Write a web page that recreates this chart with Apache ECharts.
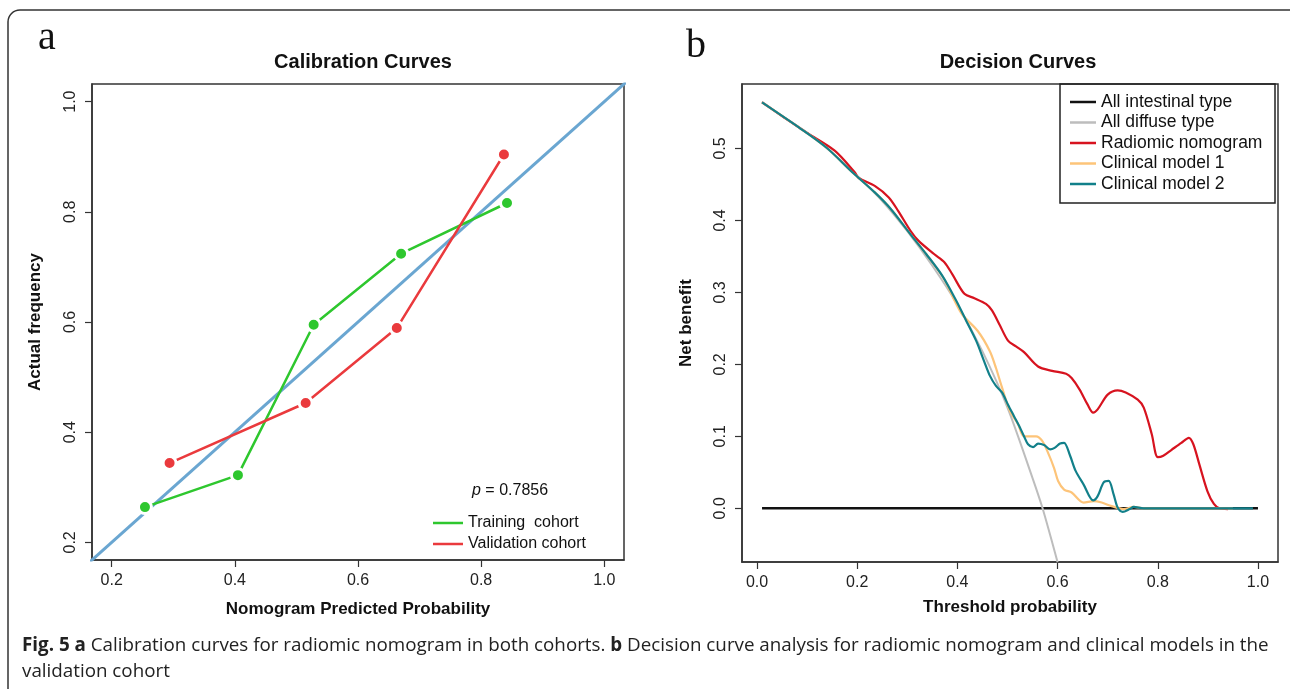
<!DOCTYPE html>
<html lang="en">

<head>
  <meta charset="UTF-8">
  <title>Calibration and Decision Curves</title>
  <script src="https://cdn.jsdelivr.net/npm/echarts@6.0.0/dist/echarts.min.js"></script>
  <style>
    html, body { margin: 0; padding: 0; background: #fff; }
  </style>
</head>

<body>
  <div id="main" style="width: 1290px;height:689px;"></div>
  <script>
    // panel a: calibration points (predicted, observed)
    const trainPred = [0.254, 0.405, 0.528, 0.670, 0.842];
    const trainObs = [0.264, 0.322, 0.595, 0.724, 0.816];
    const validPred = [0.294, 0.515, 0.663, 0.837];
    const validObs = [0.344, 0.453, 0.589, 0.904];
    const idealLine = [[0.1, 0.1], [1.1, 1.1]];
    const calTicks = [0.2, 0.4, 0.6, 0.8, 1.0];

    // panel b: decision curves [threshold, net benefit]
    const allIntestinal = [[0.01, 0], [1.0, 0]];
    const allDiffuse = [[0.01, 0.565], [0.05, 0.545], [0.1, 0.522], [0.15, 0.494], [0.2, 0.462],
      [0.25, 0.427], [0.3, 0.385], [0.35, 0.337], [0.4, 0.283], [0.45, 0.218], [0.5, 0.140],
      [0.55, 0.042], [0.57, 0.0], [0.6, -0.075]];
    const radiomic = [[0.01, 0.564], [0.05, 0.545], [0.099, 0.522], [0.155, 0.497], [0.195, 0.467],
      [0.203, 0.459], [0.235, 0.448], [0.263, 0.432], [0.282, 0.413], [0.306, 0.386], [0.322, 0.372],
      [0.354, 0.353], [0.374, 0.342], [0.39, 0.325], [0.414, 0.298], [0.434, 0.292], [0.457, 0.284],
      [0.469, 0.275], [0.485, 0.254], [0.501, 0.233], [0.517, 0.225], [0.533, 0.217], [0.561, 0.197],
      [0.589, 0.191], [0.617, 0.187], [0.628, 0.181], [0.644, 0.165], [0.66, 0.144], [0.671, 0.133],
      [0.68, 0.1375], [0.70, 0.158], [0.72, 0.164], [0.736, 0.161], [0.76, 0.151], [0.772, 0.140],
      [0.788, 0.103], [0.80, 0.071], [0.811, 0.073], [0.827, 0.081], [0.847, 0.091], [0.862, 0.098],
      [0.871, 0.089], [0.883, 0.061], [0.899, 0.024], [0.912, 0.006], [0.923, 0.0], [0.94, -0.001]];
    const clinical1 = [[0.01, 0.564], [0.084, 0.529], [0.139, 0.501], [0.187, 0.469], [0.235, 0.439],
      [0.267, 0.416], [0.306, 0.381], [0.338, 0.353], [0.354, 0.338], [0.374, 0.318], [0.394, 0.289],
      [0.41, 0.269], [0.441, 0.246], [0.465, 0.218], [0.477, 0.195], [0.489, 0.168], [0.505, 0.135],
      [0.521, 0.117], [0.533, 0.1], [0.557, 0.1], [0.569, 0.094], [0.581, 0.077], [0.593, 0.056],
      [0.601, 0.038], [0.613, 0.026], [0.628, 0.022], [0.652, 0.008], [0.672, 0.010], [0.688, 0.008],
      [0.708, 0.003], [0.732, -0.001], [0.752, 0.002], [0.772, 0.0], [0.95, 0.0]];
    const clinical2 = [[0.01, 0.564], [0.084, 0.529], [0.139, 0.501], [0.187, 0.469], [0.235, 0.439],
      [0.267, 0.416], [0.306, 0.381], [0.338, 0.353], [0.370, 0.323], [0.398, 0.288], [0.418, 0.260],
      [0.438, 0.232], [0.453, 0.205], [0.465, 0.184], [0.477, 0.170], [0.489, 0.161], [0.501, 0.144],
      [0.513, 0.128], [0.525, 0.112], [0.533, 0.100], [0.541, 0.089], [0.551, 0.085], [0.561, 0.090],
      [0.573, 0.088], [0.585, 0.082], [0.594, 0.084], [0.605, 0.090], [0.613, 0.091], [0.625, 0.073],
      [0.636, 0.052], [0.652, 0.033], [0.671, 0.011], [0.680, 0.017], [0.692, 0.036], [0.702, 0.038],
      [0.712, 0.019], [0.72, 0.001], [0.730, -0.005], [0.744, -0.001], [0.752, 0.002], [0.772, 0.0],
      [0.99, 0.0]];
    const dcaXTicks = [0, 0.2, 0.4, 0.6, 0.8, 1.0];
    const dcaYTicks = [0, 0.1, 0.2, 0.3, 0.4, 0.5];

    const FONT = 'Liberation Sans';
    const pair = (xs, ys) => xs.map((x, i) => [x, ys[i]]);

    var myChart = echarts.init(document.getElementById('main'));

    function axisStyle(ticks, rotate) {
      return {
        axisLine: { show: true, onZero: false, lineStyle: { color: '#333', width: 1.5 } },
        axisTick: { show: true, length: 7, customValues: ticks, lineStyle: { color: '#333', width: 1.2 } },
        axisLabel: {
          customValues: ticks, rotate: rotate, margin: 13, color: '#222',
          fontFamily: FONT, fontSize: 16, formatter: v => Number(v).toFixed(1)
        },
        splitLine: { show: false },
        nameLocation: 'middle',
        nameTextStyle: { fontFamily: FONT, fontWeight: 'bold', fontSize: 17, color: '#111' }
      };
    }

    const option = {
      animation: false,
      backgroundColor: '#fff',
      title: [
        { text: 'Calibration Curves', left: 358, top: 47, textAlign: 'center',
          textStyle: { fontFamily: FONT, fontWeight: 'bold', fontSize: 20, color: '#111' } },
        { text: 'Decision Curves', left: 1013, top: 47, textAlign: 'center',
          textStyle: { fontFamily: FONT, fontWeight: 'bold', fontSize: 20, color: '#111' } }
      ],
      grid: [
        { left: 92, top: 84, width: 532, height: 476, show: true, borderColor: '#333', borderWidth: 1.5 },
        { left: 742, top: 84, width: 536, height: 478, show: true, borderColor: '#333', borderWidth: 1.5 }
      ],
      xAxis: [
        Object.assign(axisStyle(calTicks, 0), { type: 'value', gridIndex: 0, min: 0.168, max: 1.032,
          name: 'Nomogram Predicted Probability', nameGap: 41 }),
        Object.assign(axisStyle(dcaXTicks, 0), { type: 'value', gridIndex: 1, min: -0.03, max: 1.04,
          name: 'Threshold probability', nameGap: 37 })
      ],
      yAxis: [
        Object.assign(axisStyle(calTicks, 90), { type: 'value', gridIndex: 0, min: 0.168, max: 1.032,
          name: 'Actual frequency', nameGap: 48 }),
        Object.assign(axisStyle(dcaYTicks, 90), { type: 'value', gridIndex: 1, min: -0.0746, max: 0.5896,
          name: 'Net benefit', nameGap: 47 })
      ],
      legend: [
        {
          left: 428, top: 510, orient: 'vertical', itemGap: 5, itemWidth: 30, itemHeight: 2.5, icon: 'rect',
          itemStyle: { borderWidth: 0 },
          textStyle: { fontFamily: FONT, fontSize: 16, color: '#111' },
          data: ['Training  cohort', 'Validation cohort']
        },
        {
          left: 1065, top: 88, orient: 'vertical', itemGap: 2.5, itemWidth: 26, itemHeight: 2.5, icon: 'rect',
          itemStyle: { borderWidth: 0 },
          textStyle: { fontFamily: FONT, fontSize: 17.5, color: '#111' },
          data: ['All intestinal type', 'All diffuse type', 'Radiomic nomogram', 'Clinical model 1', 'Clinical model 2']
        }
      ],
      graphic: [
        { type: 'rect', shape: { x: 8, y: 10, width: 1310, height: 720, r: 12 }, silent: true,
          style: { fill: 'none', stroke: '#333', lineWidth: 1.5 } },
        { type: 'text', left: 38, top: 18, style: { text: 'a', font: '40px "Liberation Serif"', fill: '#111' } },
        { type: 'text', left: 686, top: 26, style: { text: 'b', font: '40px "Liberation Serif"', fill: '#111' } },
        { type: 'text', left: 472, top: 483, style: {
            text: '{i|p} = 0.7856', font: '16px "Liberation Sans"', fill: '#111',
            rich: { i: { fontStyle: 'italic', fontFamily: FONT, fontSize: 16 } } } },
        { type: 'rect', shape: { x: 1060, y: 84, width: 215, height: 119 }, silent: true, z: 10,
          style: { fill: 'none', stroke: '#222', lineWidth: 1.5 } },
        { type: 'text', left: 22, top: 636, style: {
            text: '{b|Fig. 5 a} Calibration curves for radiomic nomogram in both cohorts. {b|b} Decision curve analysis for radiomic nomogram and clinical models in the',
            font: '18.8px "Open Sans"', fill: '#222', rich: { b: { fontWeight: 'bold', fontFamily: 'Open Sans', fontSize: 18.8 } } } },
        { type: 'text', left: 22, top: 662, style: {
            text: 'validation cohort', font: '18.8px "Open Sans"', fill: '#222' } }
      ],
      series: [
        { name: 'ideal', type: 'line', xAxisIndex: 0, yAxisIndex: 0, data: idealLine, showSymbol: false,
          lineStyle: { color: '#6aa6d1', width: 3 }, clip: true, silent: true },
        { name: 'Training  cohort', type: 'line', xAxisIndex: 0, yAxisIndex: 0, data: pair(trainPred, trainObs),
          symbol: 'circle', symbolSize: 13, color: '#2ec72e', lineStyle: { color: '#2ec72e', width: 2.5 },
          itemStyle: { color: '#2ec72e', borderColor: '#fff', borderWidth: 3 } },
        { name: 'Validation cohort', type: 'line', xAxisIndex: 0, yAxisIndex: 0, data: pair(validPred, validObs),
          symbol: 'circle', symbolSize: 13, color: '#ea3a3d', lineStyle: { color: '#ea3a3d', width: 2.5 },
          itemStyle: { color: '#ea3a3d', borderColor: '#fff', borderWidth: 3 } },

        { name: 'All intestinal type', type: 'line', xAxisIndex: 1, yAxisIndex: 1, data: allIntestinal,
          showSymbol: false, color: '#111', lineStyle: { color: '#111', width: 2.5 } },
        { name: 'All diffuse type', type: 'line', xAxisIndex: 1, yAxisIndex: 1, data: allDiffuse, smooth: 0.3,
          showSymbol: false, color: '#bdbdbd', lineStyle: { color: '#bdbdbd', width: 2 }, clip: true },
        { name: 'Radiomic nomogram', type: 'line', xAxisIndex: 1, yAxisIndex: 1, data: radiomic, smooth: 0.3,
          showSymbol: false, color: '#d7131f', lineStyle: { color: '#d7131f', width: 2.2 } },
        { name: 'Clinical model 1', type: 'line', xAxisIndex: 1, yAxisIndex: 1, data: clinical1, smooth: 0.3,
          showSymbol: false, color: '#fdc479', lineStyle: { color: '#fdc479', width: 2.2 } },
        { name: 'Clinical model 2', type: 'line', xAxisIndex: 1, yAxisIndex: 1, data: clinical2, smooth: 0.3,
          showSymbol: false, color: '#12808a', lineStyle: { color: '#12808a', width: 2.2 } }
      ]
    };

    myChart.setOption(option);
  </script>
</body>

</html>
